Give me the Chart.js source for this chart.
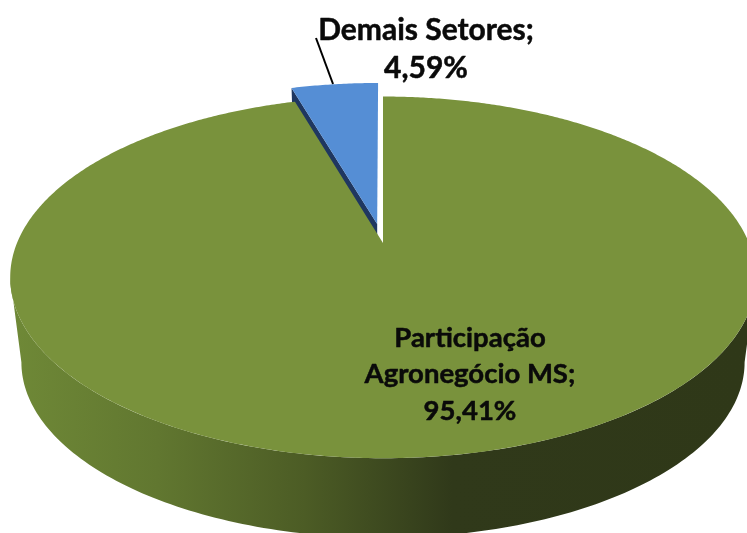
<!DOCTYPE html>
<html lang="pt-BR">
<head>
<meta charset="utf-8">
<title>Participação Agronegócio MS</title>
<script src="https://cdn.jsdelivr.net/npm/chart.js@4/dist/chart.umd.min.js"></script>
<style>
  html, body { margin: 0; padding: 0; background: #fff; overflow: hidden; }
  canvas { display: block; }
</style>
</head>
<body>
<canvas id="pieChart" width="747" height="533"></canvas>
<script>
// ── Chart data
const categories = ['Participação Agronegócio MS', 'Demais Setores'];
const shares     = [95.41, 4.59];

// ── Colors
const sliceColors = ['#79923c', '#558ed5'];
const sideColor   = '#1f3760';  // cut face of the exploded slice
const textColor   = '#0a0a0a';

// ── Tilted disc: Chart.js gives the angles and radius, this projects them
const DISC = {
  halfWidth:  366,
  halfHeight: 174.3,
  tilt:       0.19,   // perspective, near edge looks bigger
  depth:      86,     // height of the side wall
  shrink:     0.97,   // bottom rim is a bit further away
};

function project(el, u, v, lower) {
  const s = lower ? DISC.shrink : 1;
  const d = 1 + DISC.tilt * v;
  return {
    x: el.x + s * DISC.halfWidth * u / d,
    y: el.y - s * DISC.halfHeight * v / d + (lower ? DISC.depth : 0),
  };
}

// Point on the rim for a Chart.js angle, moved by the slice's explode offset
function rimPoint(el, angle, radius, lower) {
  const mid = (el.startAngle + el.endAngle) / 2;
  const off = (el.options.offset || 0) / el.outerRadius;
  const u = off * Math.cos(mid) + radius * Math.cos(angle);
  const v = -(off * Math.sin(mid) + radius * Math.sin(angle));
  return project(el, u, v, lower);
}

function tracePoints(ctx, points) {
  ctx.beginPath();
  points.forEach((p, i) => (i ? ctx.lineTo(p.x, p.y) : ctx.moveTo(p.x, p.y)));
  ctx.closePath();
}

function drawFrontWall(ctx, el) {
  const top = [];
  const bottom = [];
  // front of the rim, from one widest point of the ellipse to the other
  const edge = Math.asin(DISC.tilt);
  for (let a = edge; a <= Math.PI - edge; a += Math.PI / 180) {
    top.push(rimPoint(el, a, 1, false));
    bottom.push(rimPoint(el, a, 1, true));
  }
  top.push(rimPoint(el, Math.PI - edge, 1, false));
  bottom.push(rimPoint(el, Math.PI - edge, 1, true));
  const grad = ctx.createLinearGradient(10, 0, 747, 0);
  grad.addColorStop(0,    '#6f8937');
  grad.addColorStop(0.2,  '#617730');
  grad.addColorStop(0.4,  '#4c5c25');
  grad.addColorStop(0.6,  '#30391a');
  grad.addColorStop(1,    '#2f3818');
  tracePoints(ctx, top.concat(bottom.reverse()));
  ctx.fillStyle = grad;
  ctx.fill();
}

function drawCutFace(ctx, el) {
  tracePoints(ctx, [
    rimPoint(el, el.startAngle, 0, false),
    rimPoint(el, el.startAngle, 1, false),
    rimPoint(el, el.startAngle, 1, true),
    rimPoint(el, el.startAngle, 0, true),
  ]);
  ctx.fillStyle = sideColor;
  ctx.fill();
}

function drawFace(ctx, el) {
  const pts = [rimPoint(el, el.startAngle, 0, false)];
  for (let a = el.startAngle; a < el.endAngle; a += Math.PI / 360) {
    pts.push(rimPoint(el, a, 1, false));
  }
  pts.push(rimPoint(el, el.endAngle, 1, false));
  tracePoints(ctx, pts);
  ctx.fillStyle = el.options.backgroundColor;
  ctx.fill();
}

const tiltedPie = {
  id: 'tiltedPie',
  beforeDatasetDraw(chart) {
    const ctx = chart.ctx;
    const [main, small] = chart.getDatasetMeta(0).data;
    ctx.save();
    drawCutFace(ctx, small);
    drawFrontWall(ctx, main);
    drawFace(ctx, main);
    drawFace(ctx, small);
    ctx.restore();
    return false;  // skip the flat arcs
  },
};

// ── Labels in the "name; value" form, wrapped like the original
const pieLabels = {
  id: 'pieLabels',
  afterDraw(chart) {
    const ctx = chart.ctx;
    const spots = [
      { x: 470, y: 338, size: 27.5, gap: 36.5, wrap: 240 },
      { x: 426, y: 30,  size: 30,   gap: 38,   wrap: 270 },
    ];
    ctx.save();
    ctx.fillStyle = textColor;
    ctx.strokeStyle = textColor;
    ctx.lineWidth = 0.5;
    ctx.lineJoin = 'round';
    ctx.textAlign = 'center';
    ctx.textBaseline = 'middle';
    categories.forEach((name, i) => {
      const spot = spots[i];
      ctx.font = `700 ${spot.size}px Lato, Carlito, sans-serif`;
      const lines = [];
      let line = '';
      (name + ';').split(' ').forEach(word => {
        const next = line ? line + ' ' + word : word;
        if (ctx.measureText(next).width > spot.wrap && line) {
          lines.push(line);
          line = word;
        } else {
          line = next;
        }
      });
      lines.push(line);
      lines.push(shares[i].toFixed(2).replace('.', ',') + '%');
      lines.forEach((text, n) => {
        ctx.fillText(text, spot.x, spot.y + n * spot.gap);
        ctx.strokeText(text, spot.x, spot.y + n * spot.gap);
      });
    });

    // Leader line of the small slice
    ctx.strokeStyle = '#000';
    ctx.lineWidth = 2;
    ctx.beginPath();
    ctx.moveTo(316, 38);
    ctx.lineTo(333, 84);
    ctx.stroke();
    ctx.restore();
  },
};

new Chart(document.getElementById('pieChart'), {
  type: 'pie',
  data: {
    labels: categories,
    datasets: [{
      data: shares,
      backgroundColor: sliceColors,
      borderWidth: 0,
      offset: [0, 26],
    }],
  },
  options: {
    responsive: false,
    animation: false,
    layout: { padding: { left: 19, bottom: 47 } },
    plugins: {
      legend:  { display: false },
      tooltip: { enabled: false },
    },
  },
  plugins: [tiltedPie, pieLabels],
});
</script>
</body>
</html>
